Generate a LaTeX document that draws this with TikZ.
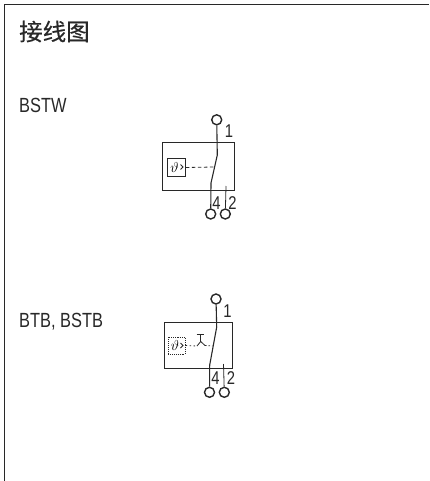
\documentclass[tikz,border=0pt]{standalone}
\usepackage{amsmath}
\usepackage{fontspec}
\setmainfont[FakeStretch=0.8]{Liberation Sans}
\newfontfamily\cjk[FakeBold=0.4]{Noto Sans CJK SC}
\tikzset{
  terminal/.style={circle,draw=inkdark,line width=1.4pt,inner sep=0pt,minimum size=10pt},
  wire/.style={draw=inkdark,line width=1.1pt},
  thinwire/.style={draw=inkdark,line width=0.8pt},
  housing/.style={draw=inkdark,line width=0.9pt},
  pinlabel/.style={inner sep=0pt,text=inkdark,font=\fontsize{18.5}{18}\selectfont},
  sidelabel/.style={anchor=west,inner sep=0pt,text=inkdark,font=\fontsize{20.5}{21}\selectfont},
}
\definecolor{inkdark}{RGB}{40,40,40}
\begin{document}
\begin{tikzpicture}[x=1pt,y=1pt,yscale=-1,xscale=1]
\useasboundingbox (0,0) rectangle (429,481);
%Shape: Frame
\draw [inkdark,line width=1.4pt] (4.5,481) -- (4.5,4.5) -- (429,4.5);
\node (title) [anchor=west,inner sep=0pt,text=inkdark,font=\cjk\fontsize{23.5}{24}\selectfont] at (19,31.5) {接线图};
\node (labelbstw) [sidelabel] at (19,105) {BSTW};
\node (labelbtb) [sidelabel] at (19,322) {BTB, BSTB};
%Shape: Upper housing
\draw [housing] (162.7,142.7) rectangle (234,190.7);
\node (termtopa) [terminal] at (216.7,119.8) {};
\node (termlefta) [terminal] at (210.7,214) {};
\node (termrighta) [terminal] at (225.3,214) {};
\coordinate (benda) at (217.3,155);
\coordinate (kneea) at (211,183);
\coordinate (stuba) at (226,186);
\coordinate (pusha) at (214.2,167);
\draw [wire] (termtopa) -- (benda) -- (kneea) -- (termlefta);
\draw [thinwire] (stuba) -- (termrighta);
\node (sensora) [draw=inkdark,line width=1.3pt,minimum size=18pt,inner sep=0pt,font=\fontsize{15}{15}\selectfont] at (176.3,167.5) {$\vartheta$\kern3.5pt};
\draw [thinwire] (180.5,164.5) -- (183,167) -- (180.5,169.5);
\draw [thinwire,dash pattern={on 3.5pt off 2.5pt}] (sensora.east) -- (pusha);
\node (pinonea) [pinlabel] at (229,131.5) {1};
\node (pinfoura) [pinlabel] at (216.5,202.7) {4};
\node (pintwoa) [pinlabel] at (232.5,202.7) {2};
%Shape: Lower housing
\draw [housing] (164,322.3) rectangle (232.7,368);
\node (termtopb) [terminal] at (216,299) {};
\node (termleftb) [terminal] at (209.5,392.3) {};
\node (termrightb) [terminal] at (224.3,392.3) {};
\coordinate (bendb) at (216.7,327);
\coordinate (kneeb) at (209.7,365);
\coordinate (stubb) at (223.5,364);
\coordinate (pushb) at (212.5,346);
\coordinate (latchl) at (197,346);
\coordinate (latchr) at (205,345.5);
\coordinate (stemb) at (200.7,341.5);
\draw [wire] (termtopb) -- (bendb) -- (kneeb) -- (termleftb);
\draw [thinwire] (stubb) -- (termrightb);
\node (sensorb) [draw=inkdark,line width=0.9pt,densely dotted,minimum size=17pt,inner sep=0pt,font=\fontsize{15}{15}\selectfont] at (176.7,345.5) {$\vartheta$\kern3.5pt};
\draw [thinwire] (180.5,343) -- (183,345.5) -- (180.5,348);
\draw [thinwire,dash pattern={on 1.5pt off 2.5pt}] (sensorb.east) -- (latchl);
\draw [thinwire] (latchl) -- (stemb) -- (latchr);
\draw [thinwire] (196.7,334) -- (204.3,334) (200.7,334) -- (stemb);
\draw [thinwire,dash pattern={on 1.5pt off 2pt}] (latchr) -- (pushb);
\node (pinoneb) [pinlabel] at (227.5,311.5) {1};
\node (pinfourb) [pinlabel] at (215.5,378.5) {4};
\node (pintwob) [pinlabel] at (231,378.5) {2};
\end{tikzpicture}
\end{document}
